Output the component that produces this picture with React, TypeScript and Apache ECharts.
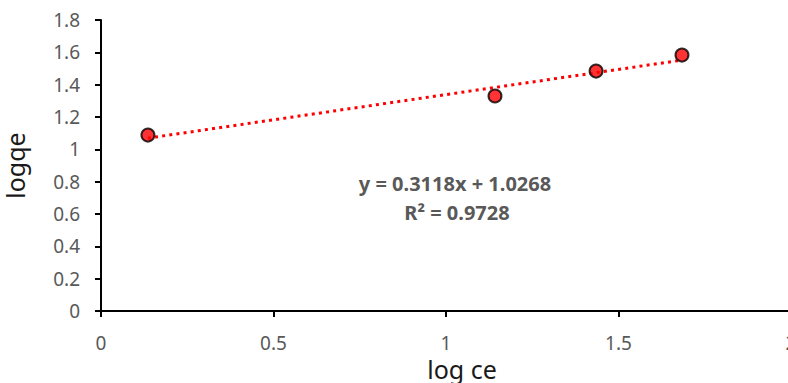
import React, { useEffect, useRef } from "react";
import * as echarts from "echarts";

// Measured points (log ce, log qe)
const logCe = [0.136, 1.142, 1.435, 1.684];
const logQe = [1.088, 1.33, 1.484, 1.583];

// Linear fit reported on the chart
const slope = 0.3118;
const intercept = 1.0268;
const rSquared = 0.9728;

const xTicks = [0, 0.5, 1, 1.5, 2];
const yTicks = [0, 0.2, 0.4, 0.6, 0.8, 1, 1.2, 1.4, 1.6, 1.8];

export default function App() {
  const ref = useRef<HTMLDivElement>(null);

  useEffect(() => {
    if (!ref.current) return;
    const chart = echarts.init(ref.current, undefined, { renderer: "svg" });

    const xMin = Math.min(...logCe);
    const xMax = Math.max(...logCe);
    const fitLine = [
      [xMin, slope * xMin + intercept],
      [xMax, slope * xMax + intercept],
    ];

    const labelFont = "'Noto Sans', 'Liberation Sans', sans-serif";

    chart.setOption({
      animation: false,
      backgroundColor: "#ffffff",
      grid: {
        left: 101,
        top: 20,
        width: 690,
        height: 291,
        outerBoundsMode: "none",
        containLabel: false,
      },
      xAxis: {
        type: "value",
        min: xTicks[0],
        max: xTicks[xTicks.length - 1],
        interval: 0.5,
        name: "log ce",
        nameLocation: "middle",
        nameGap: 44,
        nameTextStyle: {
          color: "#1a1a1a",
          fontSize: 25,
          fontFamily: labelFont,
          padding: [0, 0, 0, 32],
        },
        axisLine: { show: true, lineStyle: { color: "#000", width: 2 } },
        axisTick: { show: true, length: 6, lineStyle: { color: "#000", width: 2 } },
        axisLabel: {
          color: "#595959",
          fontSize: 19,
          fontFamily: labelFont,
          margin: 22,
          formatter: (v: number) => (xTicks.includes(v) ? String(v) : ""),
        },
        splitLine: { show: false },
      },
      yAxis: {
        type: "value",
        min: yTicks[0],
        max: yTicks[yTicks.length - 1],
        interval: 0.2,
        name: "logqe",
        nameLocation: "middle",
        nameGap: 74,
        nameRotate: 90,
        nameTextStyle: { color: "#1a1a1a", fontSize: 25, fontFamily: labelFont },
        axisLine: { show: true, lineStyle: { color: "#000", width: 2 } },
        axisTick: { show: true, length: 6, lineStyle: { color: "#000", width: 2 } },
        axisLabel: {
          color: "#595959",
          fontSize: 19,
          fontFamily: labelFont,
          margin: 21,
          formatter: (v: number) => String(Math.round(v * 10) / 10),
        },
        splitLine: { show: false },
      },
      series: [
        {
          type: "line",
          data: fitLine,
          symbol: "none",
          lineStyle: { color: "#ff0000", width: 3, type: [3, 4.2] },
          z: 2,
        },
        {
          type: "scatter",
          data: logCe.map((x, i) => [x, logQe[i]]),
          symbol: "circle",
          symbolSize: 13,
          itemStyle: { color: "#ff0000", borderColor: "#000", borderWidth: 2 },
          z: 3,
        },
      ],
      graphic: [
        {
          type: "text",
          x: 455,
          y: 183,
          style: {
            text: `y = ${slope}x + ${intercept}`,
            fill: "#595959",
            fontSize: 20,
            fontWeight: "bold",
            fontFamily: labelFont,
            align: "center",
            verticalAlign: "middle",
          },
        },
        {
          type: "text",
          x: 457,
          y: 212,
          style: {
            text: `R² = ${rSquared}`,
            fill: "#595959",
            fontSize: 20,
            fontWeight: "bold",
            fontFamily: labelFont,
            align: "center",
            verticalAlign: "middle",
          },
        },
      ],
    });

    return () => chart.dispose();
  }, []);

  return (
    <div
      ref={ref}
      style={{ position: "absolute", left: 0, top: 0, width: 788, height: 383 }}
    />
  );
}
